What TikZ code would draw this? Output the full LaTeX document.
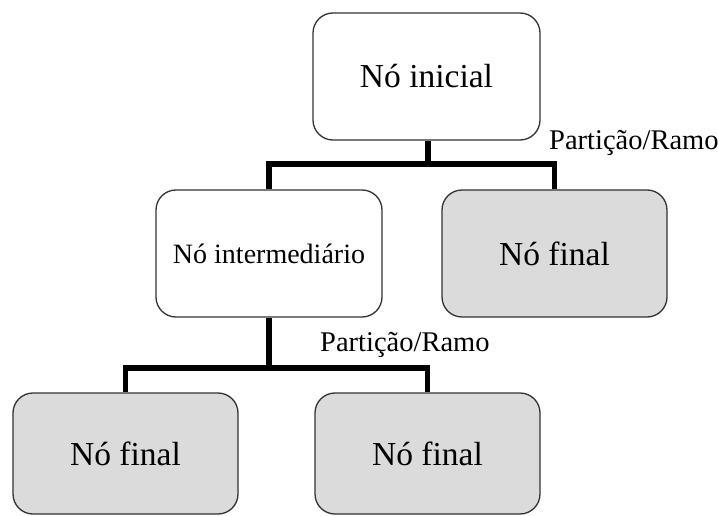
\documentclass[tikz,border=0pt]{standalone}
\usepackage{fontspec}
\setmainfont{Liberation Serif}
\begin{document}
\begin{tikzpicture}[x=1pt,y=-1pt,
  box/.style={draw=black!80,line width=1.3pt,rounded corners=20pt,inner sep=0pt,align=center},
  leaf/.style={box,fill=black!14},
  big/.style={font=\fontsize{33.5}{36}\selectfont},
  mid/.style={font=\fontsize{28}{30}\selectfont},
  conn/.style={draw=black,line width=5.5pt,line join=miter,line cap=butt},
  lbl/.style={font=\fontsize{28.5}{30}\selectfont,anchor=west,inner sep=0pt}]
\useasboundingbox (0,0) rectangle (718,516);
\node[box,big,minimum width=227pt,minimum height=127pt] (top) at (426.5,76.5) {Nó inicial};
\node[box,mid,minimum width=226pt,minimum height=127pt] (inter) at (269,253.5) {Nó intermediário};
\node[leaf,big,minimum width=225pt,minimum height=127pt] (fin1) at (554.5,253.5) {Nó final};
\node[leaf,big,minimum width=225pt,minimum height=121pt] (fin2) at (125.5,453.5) {Nó final};
\node[leaf,big,minimum width=225pt,minimum height=121pt] (fin3) at (427.5,453.5) {Nó final};
\coordinate (j1) at (428,164);
\coordinate (j2) at (269,368);
\draw[conn] (top.south -| j1) -- (j1);
\draw[conn] (inter.north) |- (j1) -| (fin1.north);
\draw[conn] (inter.south) -- (j2);
\draw[conn] (fin2.north) |- (j2) -| (fin3.north);
\node[lbl] (l1) at (549,143) {Partição/Ramo};
\node[lbl] (l2) at (320,345) {Partição/Ramo};
\end{tikzpicture}
\end{document}
